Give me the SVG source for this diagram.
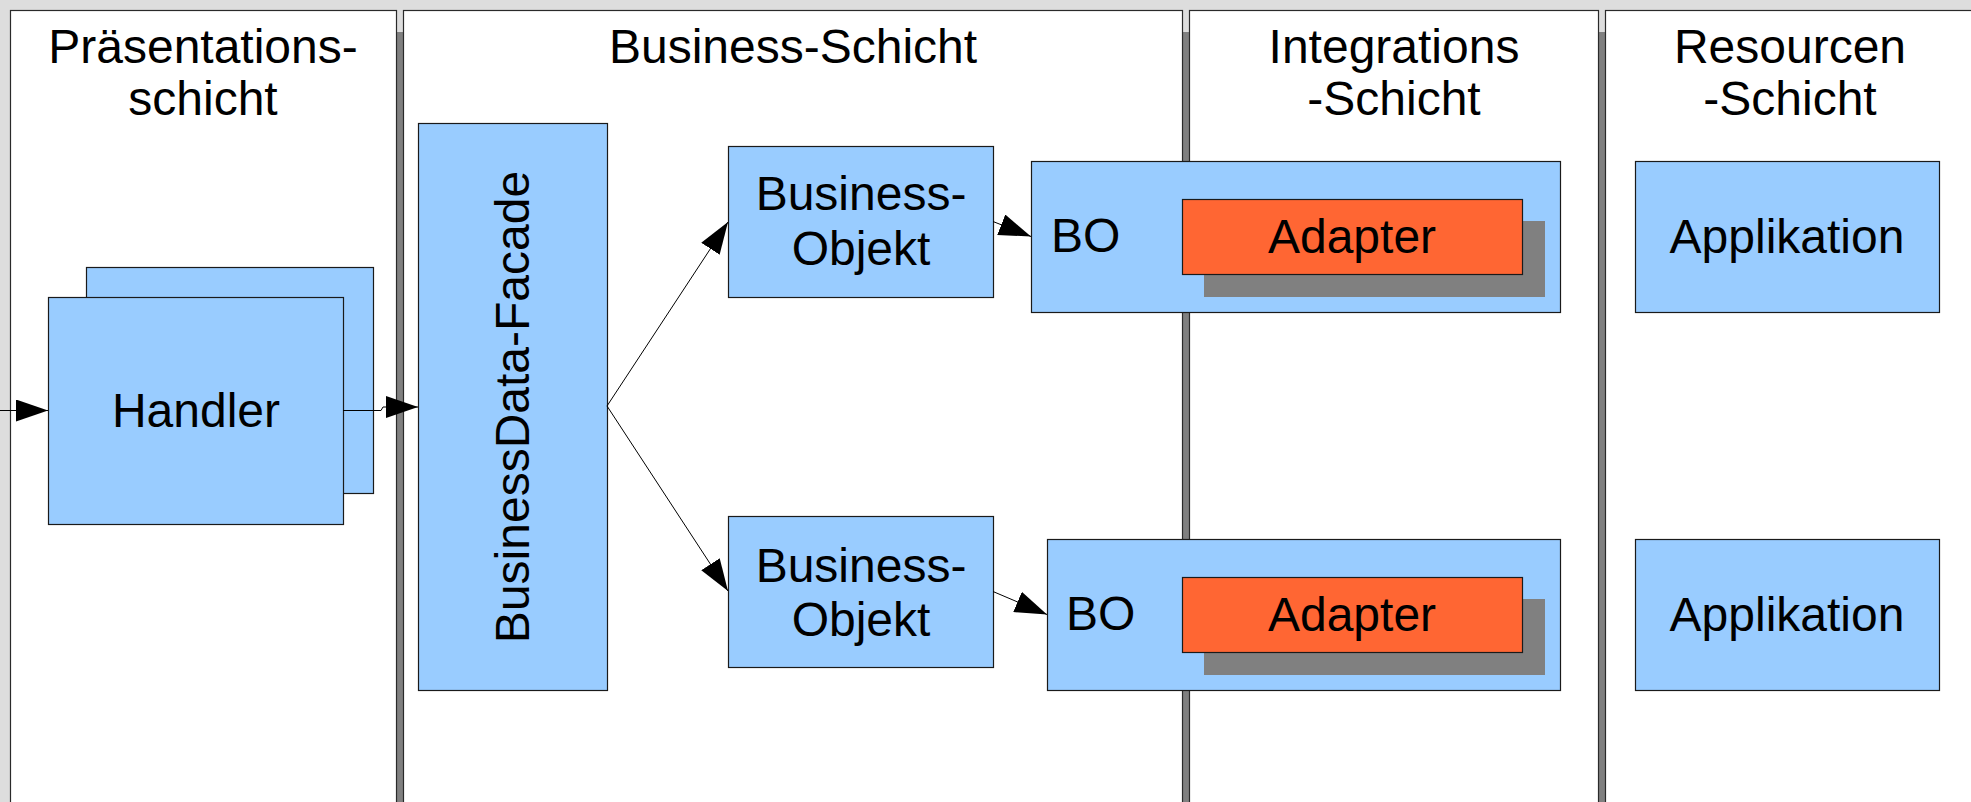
<svg xmlns="http://www.w3.org/2000/svg" width="1971" height="802" viewBox="0 0 1971 802">
<style>
.lane{fill:#ffffff;stroke:#2a2a2a;stroke-width:1.2}
.lshadow{fill:#808080}
.box{fill:#99ccff;stroke:#1a1a1a;stroke-width:1.2}
.adp{fill:#ff6633;stroke:#1a1a1a;stroke-width:1.2}
.shd{fill:#808080}
.t{font-family:"Liberation Sans",Arial,sans-serif;font-size:48px;fill:#000;text-anchor:middle}
.tl{font-family:"Liberation Sans",Arial,sans-serif;font-size:48px;fill:#000}
.c{fill:none;stroke:#000;stroke-width:1}
</style>
<defs>
<marker id="ah" markerUnits="userSpaceOnUse" markerWidth="34" markerHeight="24" refX="32" refY="11" orient="auto">
<path d="M0,0 L32,11 L0,22 z" fill="#000"/>
</marker>
</defs>
<rect x="0" y="0" width="1971" height="802" fill="#dddddd"/>
<g id="lanes">
<rect class="lshadow" x="32" y="32" width="387" height="820"/>
<rect class="lane" x="10.5" y="10.5" width="386" height="820"/>
<rect class="lshadow" x="425" y="32" width="779" height="820"/>
<rect class="lane" x="403.5" y="10.5" width="779" height="820"/>
<rect class="lshadow" x="1211" y="32" width="409" height="820"/>
<rect class="lane" x="1189.5" y="10.5" width="409" height="820"/>
<rect class="lshadow" x="1627" y="32" width="370" height="820"/>
<rect class="lane" x="1605.5" y="10.5" width="370" height="820"/>
<text class="t" x="203" y="63">Präsentations-</text>
<text class="t" x="203" y="115">schicht</text>
<text class="t" x="793" y="63">Business-Schicht</text>
<text class="t" x="1394" y="63">Integrations</text>
<text class="t" x="1394" y="115">-Schicht</text>
<text class="t" x="1790" y="63">Resourcen</text>
<text class="t" x="1790" y="115">-Schicht</text>
</g>
<g id="handler">
<rect class="box" x="86.5" y="267.5" width="287" height="226"/>
<rect class="box" x="48.5" y="297.5" width="295" height="227"/>
<text class="t" x="196" y="427">Handler</text>
</g>
<g id="facade">
<rect class="box" x="418.5" y="123.5" width="189" height="567"/>
<text class="t" transform="translate(529,407) rotate(-90)" x="0" y="0">BusinessData-Facade</text>
</g>
<g id="bo-upper">
<rect class="box" x="728.5" y="146.5" width="265" height="151"/>
<text class="t" x="861" y="210">Business-</text>
<text class="t" x="861" y="265">Objekt</text>
</g>
<g id="bo-lower">
<rect class="box" x="728.5" y="516.5" width="265" height="151"/>
<text class="t" x="861" y="582">Business-</text>
<text class="t" x="861" y="636">Objekt</text>
</g>
<g id="int-upper">
<rect class="box" x="1031.5" y="161.5" width="529" height="151"/>
<text class="tl" x="1051" y="252">BO</text>
<rect class="shd" x="1204" y="221" width="341" height="76"/>
<rect class="adp" x="1182.5" y="199.5" width="340" height="75"/>
<text class="t" x="1352" y="253">Adapter</text>
</g>
<g id="int-lower">
<rect class="box" x="1047.5" y="539.5" width="513" height="151"/>
<text class="tl" x="1066" y="630">BO</text>
<rect class="shd" x="1204" y="599" width="341" height="76"/>
<rect class="adp" x="1182.5" y="577.5" width="340" height="75"/>
<text class="t" x="1352" y="631">Adapter</text>
</g>
<g id="app-upper">
<rect class="box" x="1635.5" y="161.5" width="304" height="151"/>
<text class="t" x="1787" y="253">Applikation</text>
</g>
<g id="app-lower">
<rect class="box" x="1635.5" y="539.5" width="304" height="151"/>
<text class="t" x="1787" y="631">Applikation</text>
</g>
<g id="connectors">
<path class="c" d="M0,410.5 H48" marker-end="url(#ah)"/>
<path class="c" d="M343,410.5 H381 L383,407 H418" marker-end="url(#ah)"/>
<path class="c" d="M607,406 L728,222" marker-end="url(#ah)"/>
<path class="c" d="M607,406 L728,591" marker-end="url(#ah)"/>
<path class="c" d="M993,221.5 L1031,236.5" marker-end="url(#ah)"/>
<path class="c" d="M993,591.5 L1047,614.5" marker-end="url(#ah)"/>
</g>
</svg>
